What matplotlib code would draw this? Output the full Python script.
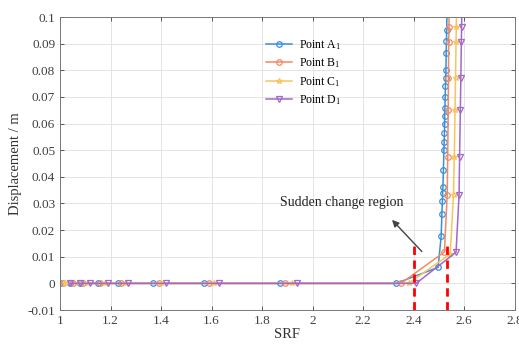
import matplotlib
matplotlib.use('Agg')
import matplotlib.pyplot as plt
import numpy as np

# --- data ---
srf_A = [1.00, 1.04, 1.08, 1.15, 1.23, 1.37, 1.57, 1.87, 2.33, 2.497,
         2.509, 2.512, 2.514, 2.515, 2.516, 2.518, 2.520, 2.521, 2.522, 2.523,
         2.523, 2.524, 2.525, 2.526, 2.527, 2.528, 2.529, 2.530, 2.531, 2.535]
disp_A = [0, 0, 0, 0, 0, 0, 0, 0, 0, 0.006,
          0.0177, 0.026, 0.031, 0.034, 0.036, 0.0424, 0.050, 0.053, 0.0565, 0.060,
          0.063, 0.066, 0.070, 0.074, 0.077, 0.080, 0.0865, 0.091, 0.095, 0.12]

srf_B = [1.01, 1.05, 1.09, 1.16, 1.24, 1.39, 1.59, 1.89, 2.35, 2.522,
         2.533, 2.535, 2.537, 2.538, 2.539, 2.540, 2.542]
disp_B = [0, 0, 0, 0, 0, 0, 0, 0, 0, 0.0118,
          0.0333, 0.0476, 0.0652, 0.0772, 0.0906, 0.0963, 0.12]

srf_C = [1.02, 1.07, 1.11, 1.18, 1.26, 1.40, 1.61, 1.92, 2.38, 2.545,
         2.558, 2.561, 2.564, 2.566, 2.568, 2.569, 2.572]
disp_C = [0, 0, 0, 0, 0, 0, 0, 0, 0, 0.011,
          0.0333, 0.0476, 0.0652, 0.0772, 0.0906, 0.0963, 0.12]

srf_D = [1.04, 1.08, 1.12, 1.19, 1.27, 1.42, 1.63, 1.94, 2.41, 2.568,
         2.580, 2.582, 2.585, 2.587, 2.589, 2.590, 2.594]
disp_D = [0, 0, 0, 0, 0, 0, 0, 0, 0, 0.0117,
          0.0333, 0.0476, 0.0652, 0.0772, 0.0906, 0.0963, 0.12]

labels = ['Point A$_1$', 'Point B$_1$', 'Point C$_1$', 'Point D$_1$']
colors = ['#3a8fd8', '#f28a62', '#f7c55c', '#a367c9']
markers = ['o', 'o', '*', 'v']

region_x = [2.40, 2.534]
region_top = 0.0153

plt.rcParams['font.family'] = ['Liberation Serif', 'DejaVu Serif']
plt.rcParams['mathtext.fontset'] = 'custom'
plt.rcParams['mathtext.rm'] = 'Liberation Serif'
plt.rcParams['mathtext.it'] = 'Liberation Serif'

fig = plt.figure(figsize=(5.19, 3.47), dpi=100)
ax = fig.add_axes([0.1156, 0.1066, 0.876, 0.8444])

series = [(srf_A, disp_A), (srf_B, disp_B), (srf_C, disp_C), (srf_D, disp_D)]
for (x, y), lab, c, m in zip(series, labels, colors, markers):
    ax.plot(x, y, color=c, marker=m, markersize=4, markerfacecolor='none',
            markeredgewidth=0.9, linewidth=1.1, label=lab)

# sudden change region markers
for xv in region_x:
    ax.plot([xv, xv], [-0.01, region_top], color='red', linestyle='--',
            linewidth=2, dashes=(3, 2))

ax.annotate('', xy=(2.307, 0.0246), xytext=(2.44, 0.0112),
            arrowprops=dict(arrowstyle='-|>', color='#444444', lw=1.0,
                            mutation_scale=10))
ax.text(2.117, 0.0303, 'Sudden change region', ha='center', va='center',
        fontsize=10, color='#222222')

ax.set_xlim(1, 2.8)
ax.set_ylim(-0.01, 0.1)
ax.set_xticks(np.arange(1, 2.81, 0.2))
ax.set_yticks(np.arange(-0.01, 0.101, 0.01))
ax.set_xticklabels(['1', '1.2', '1.4', '1.6', '1.8', '2', '2.2', '2.4', '2.6', '2.8'])
ax.set_yticklabels(['-0.01', '0', '0.01', '0.02', '0.03', '0.04', '0.05',
                    '0.06', '0.07', '0.08', '0.09', '0.1'])
ax.grid(True, color='#e4e4e4', linewidth=0.7)
ax.set_axisbelow(True)
ax.tick_params(direction='in', length=3, top=True, right=True,
               labelsize=9.5, colors='#404040', width=0.6)
for s in ax.spines.values():
    s.set_color('#777777')
    s.set_linewidth(0.7)

ax.set_xlabel('SRF', fontsize=10.5, color='#333333', labelpad=1)
ax.set_ylabel('Displacement / m', fontsize=10.5, color='#333333', labelpad=4)

ax.legend(loc='upper left', bbox_to_anchor=(0.43, 0.965), frameon=False,
          fontsize=8.5, handlelength=2.2, labelspacing=0.4, handletextpad=0.6)

fig.savefig('out.png', dpi=100)
